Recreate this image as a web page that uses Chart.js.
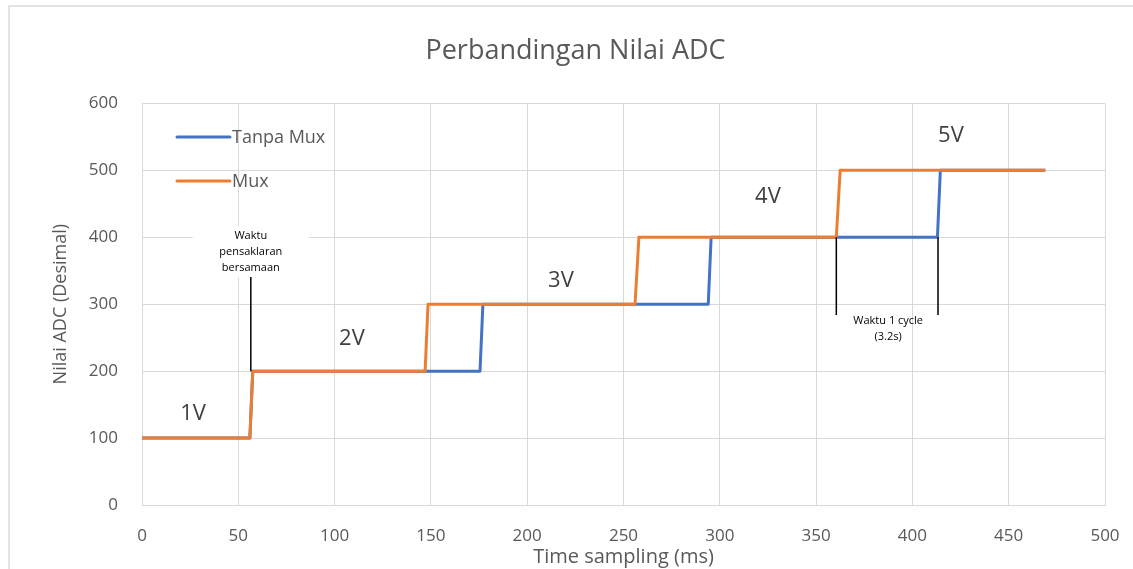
<!DOCTYPE html>
<html>
<head>
<meta charset="utf-8">
<script src="https://cdn.jsdelivr.net/npm/chart.js@4.4.1/dist/chart.umd.min.js"></script>
<style>
html,body{margin:0;padding:0;background:#fff;}
#wrap{position:relative;width:1133px;height:569px;}
</style>
</head>
<body>
<div id="wrap"><canvas id="c" width="1133" height="569"></canvas></div>
<script>
const chartTitle = "Perbandingan Nilai ADC";
const xTitle = "Time sampling (ms)";
const yTitle = "Nilai ADC (Desimal)";
const seriesNames = ["Tanpa Mux", "Mux"];

const tanpaMuxX = [0, 56, 57.5, 175.5, 177, 294, 295.5, 413, 414.5, 469];
const tanpaMuxY = [100, 100, 200, 200, 300, 300, 400, 400, 500, 500];
const muxX = [0, 56, 57.5, 147, 148.5, 256, 258, 360.5, 362.5, 469];
const muxY = [100, 100, 200, 200, 300, 300, 400, 400, 500, 500];

const voltLabels = ["1V", "2V", "3V", "4V", "5V"];
const voltLabelX = [26.5, 109, 217.5, 325, 420];
const voltLabelY = [136, 248, 335, 461, 551];

const note1Lines = ["Waktu", "pensaklaran", "bersamaan"];
const note2Lines = ["Waktu 1 cycle", "(3.2s)"];

const xTicks = [0, 50, 100, 150, 200, 250, 300, 350, 400, 450, 500];
const yTicks = [0, 100, 200, 300, 400, 500, 600];

const BLUE = "#4472C4", ORANGE = "#ED7D31", GREY = "#595959";
const FONT = "'Open Sans', 'Noto Sans', sans-serif";

function pts(xs, ys){ return xs.map((x,i)=>({x:x, y:ys[i]})); }

const annotate = {
  id: "annotate",
  beforeDraw(chart){
    const ctx = chart.ctx;
    ctx.save();
    ctx.fillStyle = "#e3e3e3";
    ctx.fillRect(8, 5, 2, chart.height - 5);
    ctx.fillRect(8, 5, chart.width - 8, 2);
    ctx.restore();
  },
  afterDatasetsDraw(chart){
    const ctx = chart.ctx, xs = chart.scales.x, ys = chart.scales.y;
    ctx.save();
    ctx.font = "18px " + FONT;
    ctx.textBaseline = "middle";
    const legY = [137, 181];
    const legCol = [BLUE, ORANGE];
    seriesNames.forEach((n,i)=>{
      ctx.strokeStyle = legCol[i]; ctx.lineWidth = 3; ctx.lineCap = "round";
      ctx.beginPath(); ctx.moveTo(177, legY[i]); ctx.lineTo(230, legY[i]); ctx.stroke();
      ctx.fillStyle = GREY; ctx.textAlign = "left";
      ctx.fillText(n, 232, legY[i] + 1);
    });
    ctx.font = "22px " + FONT;
    ctx.fillStyle = "#404040";
    ctx.textAlign = "center";
    voltLabels.forEach((t,i)=>{
      ctx.fillText(t, xs.getPixelForValue(voltLabelX[i]), ys.getPixelForValue(voltLabelY[i]));
    });
    const n1x = xs.getPixelForValue(56.5);
    ctx.fillStyle = "#fff";
    ctx.fillRect(n1x - 58, 226, 116, 52);
    ctx.fillStyle = "#000";
    ctx.font = "11px " + FONT;
    note1Lines.forEach((t,i)=>ctx.fillText(t, n1x, 236 + i*16));
    ctx.strokeStyle = "#000"; ctx.lineWidth = 1.5; ctx.lineCap = "butt";
    ctx.beginPath(); ctx.moveTo(n1x, 277); ctx.lineTo(n1x, ys.getPixelForValue(200)); ctx.stroke();
    const a = xs.getPixelForValue(360.5), b = xs.getPixelForValue(413.3);
    ctx.beginPath();
    ctx.moveTo(a, ys.getPixelForValue(400)); ctx.lineTo(a, ys.getPixelForValue(284));
    ctx.moveTo(b, ys.getPixelForValue(400)); ctx.lineTo(b, ys.getPixelForValue(284));
    ctx.stroke();
    ctx.fillStyle = "#000";
    note2Lines.forEach((t,i)=>ctx.fillText(t, (a+b)/2 + 1, 321 + i*16));
    ctx.restore();
  }
};

new Chart(document.getElementById("c"), {
  type: "line",
  data: {
    datasets: [
      { label: seriesNames[0], data: pts(tanpaMuxX, tanpaMuxY), borderColor: BLUE, backgroundColor: BLUE,
        borderWidth: 3, pointRadius: 0, tension: 0, order: 2, borderJoinStyle: "round" },
      { label: seriesNames[1], data: pts(muxX, muxY), borderColor: ORANGE, backgroundColor: ORANGE,
        borderWidth: 3, pointRadius: 0, tension: 0, order: 1, borderJoinStyle: "round" }
    ]
  },
  options: {
    responsive: false,
    animation: false,
    layout: { padding: { left: 46, right: 28, top: 0, bottom: 0 } },
    plugins: {
      legend: { display: false },
      tooltip: { enabled: false },
      title: { display: true, text: chartTitle, color: GREY,
        font: { family: FONT, size: 27, weight: "normal" }, padding: { top: 35, bottom: 36 } }
    },
    scales: {
      x: {
        type: "linear", min: 0, max: 500,
        afterBuildTicks(s){ s.ticks = xTicks.map(v=>({value:v})); },
        afterFit(s){ s.height = 64; s.paddingLeft = 0; s.paddingRight = 0; },
        grid: { color: "#d9d9d9", lineWidth: 1, drawTicks: false },
        border: { color: "#d9d9d9" },
        ticks: { color: GREY, font: { family: FONT, size: 17 }, padding: 21, maxRotation: 0 },
        title: { display: true, text: xTitle, color: GREY, font: { family: FONT, size: 20 }, padding: { top: -10, bottom: 0 } }
      },
      y: {
        min: 0, max: 600,
        afterBuildTicks(s){ s.ticks = yTicks.map(v=>({value:v})); },
        afterFit(s){ s.width = 96; },
        grid: { color: "#d9d9d9", lineWidth: 1, drawTicks: false },
        border: { color: "#d9d9d9" },
        ticks: { color: GREY, font: { family: FONT, size: 17 }, padding: 24 },
        title: { display: true, text: yTitle, color: GREY, font: { family: FONT, size: 18 }, padding: { top: 4, bottom: 4 } }
      }
    }
  },
  plugins: [annotate]
});
</script>
</body>
</html>
